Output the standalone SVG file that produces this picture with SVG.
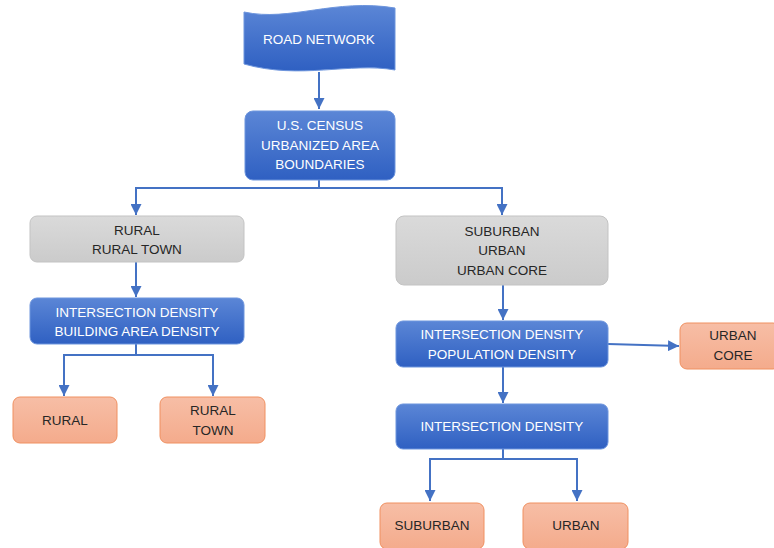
<svg xmlns="http://www.w3.org/2000/svg" width="774" height="548" viewBox="0 0 774 548">
<defs>
<linearGradient id="gb" x1="0" y1="0" x2="0" y2="1">
<stop offset="0" stop-color="#5b86d6"/>
<stop offset="1" stop-color="#2f60c2"/>
</linearGradient>
<linearGradient id="gg" x1="0" y1="0" x2="0" y2="1">
<stop offset="0" stop-color="#dadada"/>
<stop offset="1" stop-color="#cbcbcb"/>
</linearGradient>
<linearGradient id="go" x1="0" y1="0" x2="0" y2="1">
<stop offset="0" stop-color="#f7bea6"/>
<stop offset="1" stop-color="#f4ab8c"/>
</linearGradient>
<marker id="ah" viewBox="0 0 10 10" refX="10" refY="5" markerWidth="11" markerHeight="11" markerUnits="userSpaceOnUse" orient="auto">
<path d="M0,0 L10,5 L0,10 z" fill="#4472c4"/>
</marker>
</defs>
<style>
.blue{fill:url(#gb);stroke:#6d95dd;stroke-width:1}
.gray{fill:url(#gg);stroke:#c3c3c3;stroke-width:1}
.orange{fill:url(#go);stroke:#f09060;stroke-width:1}
text{font-family:"Liberation Sans",Arial,sans-serif;font-size:13.5px;text-anchor:middle}
.w{fill:#ffffff}
.d{fill:#262626}
.c{fill:none;stroke:#4472c4;stroke-width:2}
</style>
<g id="connectors">
<path class="c" d="M319,72 V109" marker-end="url(#ah)"/>
<path class="c" d="M319,180 V188 H136 V215" marker-end="url(#ah)"/>
<path class="c" d="M319,188 H502 V215" marker-end="url(#ah)"/>
<path class="c" d="M136,262 V297" marker-end="url(#ah)"/>
<path class="c" d="M136,344 V355 H64 V396" marker-end="url(#ah)"/>
<path class="c" d="M136,355 H213 V396" marker-end="url(#ah)"/>
<path class="c" d="M503,285 V320" marker-end="url(#ah)"/>
<path class="c" d="M608,344 L679,346" marker-end="url(#ah)"/>
<path class="c" d="M503,367 V403" marker-end="url(#ah)"/>
<path class="c" d="M503,449 V459 H430 V501" marker-end="url(#ah)"/>
<path class="c" d="M503,459 H577 V501" marker-end="url(#ah)"/>
</g>
<g id="road-network">
<path class="blue" d="M244,12 C290,22 335,-2 395,8 L395,70 C350,62 300,80 244,64 Z"/>
<text class="w" x="319" y="44">ROAD NETWORK</text>
</g>
<g id="census">
<rect class="blue" x="245" y="111" width="150" height="69" rx="8"/>
<text class="w" x="320" y="130">U.S. CENSUS</text>
<text class="w" x="320" y="150">URBANIZED AREA</text>
<text class="w" x="320" y="169">BOUNDARIES</text>
</g>
<g id="rural-group">
<rect class="gray" x="30" y="216" width="214" height="46" rx="7"/>
<text class="d" x="137" y="235">RURAL</text>
<text class="d" x="137" y="254">RURAL TOWN</text>
</g>
<g id="rural-density">
<rect class="blue" x="30" y="298" width="214" height="46" rx="7"/>
<text class="w" x="137" y="317">INTERSECTION DENSITY</text>
<text class="w" x="137" y="336">BUILDING AREA DENSITY</text>
</g>
<g id="rural">
<rect class="orange" x="13" y="397" width="104" height="46" rx="7"/>
<text class="d" x="65" y="425">RURAL</text>
</g>
<g id="rural-town">
<rect class="orange" x="160" y="397" width="105" height="46" rx="7"/>
<text class="d" x="213" y="415">RURAL</text>
<text class="d" x="213" y="435">TOWN</text>
</g>
<g id="urban-group">
<rect class="gray" x="396" y="216" width="212" height="69" rx="8"/>
<text class="d" x="502" y="236">SUBURBAN</text>
<text class="d" x="502" y="255">URBAN</text>
<text class="d" x="502" y="275">URBAN CORE</text>
</g>
<g id="urban-density">
<rect class="blue" x="396" y="321" width="212" height="46" rx="7"/>
<text class="w" x="502" y="339">INTERSECTION DENSITY</text>
<text class="w" x="502" y="359">POPULATION DENSITY</text>
</g>
<g id="urban-core">
<rect class="orange" x="680" y="323" width="100" height="46" rx="7"/>
<text class="d" x="733" y="340">URBAN</text>
<text class="d" x="733" y="360">CORE</text>
</g>
<g id="intersection-density">
<rect class="blue" x="396" y="404" width="212" height="45" rx="7"/>
<text class="w" x="502" y="431">INTERSECTION DENSITY</text>
</g>
<g id="suburban">
<rect class="orange" x="380" y="503" width="104" height="46" rx="7"/>
<text class="d" x="432" y="530">SUBURBAN</text>
</g>
<g id="urban">
<rect class="orange" x="523" y="503" width="105" height="46" rx="7"/>
<text class="d" x="576" y="530">URBAN</text>
</g>
</svg>
